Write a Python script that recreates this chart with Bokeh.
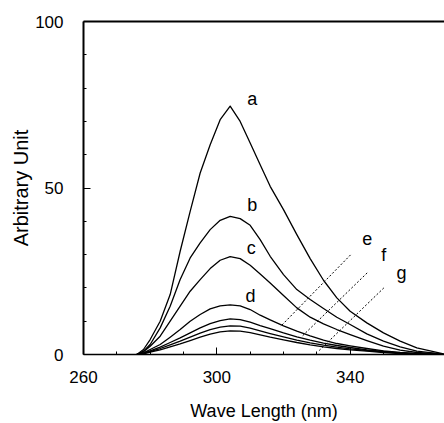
from bokeh.plotting import figure
from bokeh.models import Range1d, FixedTicker, LinearAxis, ColumnDataSource
from bokeh.core.properties import value
from bokeh.embed import file_html
from bokeh.resources import INLINE

# wavelength grid (nm)
wavelength = [276, 278, 280, 283, 286, 289, 292, 295, 298, 301, 304, 307, 310,
              313, 316, 320, 324, 328, 332, 336, 340, 345, 350, 355, 360, 368]

curve_a = [0, 1.5, 4.5, 10, 18, 31, 43, 54.5, 63, 70.5, 74.6, 70, 63.5,
           57, 50.5, 43.5, 36, 28.8, 22.3, 17, 13, 9.5, 6.5, 4, 2, 0.2]
curve_b = [0, 1, 3, 8, 14.5, 22.5, 29, 33.5, 37.5, 40.3, 41.5, 40.8, 38.8,
           34.5, 29.5, 24, 19.5, 16.5, 13.8, 11.2, 9, 6.2, 4, 2.3, 1, 0.1]
curve_c = [0, 0.8, 2.5, 5.5, 10, 14.5, 19, 22.5, 25.8, 28.3, 29.4, 28.8, 26.8,
           24.2, 21.5, 17.7, 14, 11.2, 9.2, 7.5, 6, 4.2, 2.5, 1.3, 0.6, 0.1]
curve_d = [0, 0.5, 1.5, 3, 5.2, 7.5, 10, 12, 13.7, 14.6, 14.9, 14.6, 13.5,
           11.8, 10.4, 8.6, 7, 5.6, 4.3, 3.3, 2.6, 1.8, 1.1, 0.6, 0.3, 0]
curve_e = [0, 0.4, 1.1, 2.2, 3.6, 5, 6.5, 8, 9.3, 10.2, 10.7, 10.5, 9.7,
           8.7, 7.8, 6.5, 5.3, 4.3, 3.4, 2.7, 2.1, 1.4, 0.9, 0.5, 0.2, 0]
curve_f = [0, 0.3, 0.9, 1.8, 2.9, 4, 5.2, 6.4, 7.5, 8.2, 8.6, 8.5, 7.9,
           7.1, 6.3, 5.3, 4.3, 3.5, 2.8, 2.2, 1.7, 1.2, 0.8, 0.4, 0.2, 0]
curve_g = [0, 0.2, 0.7, 1.4, 2.3, 3.2, 4.2, 5.2, 6.1, 6.8, 7.1, 7, 6.6,
           5.9, 5.2, 4.4, 3.6, 2.9, 2.3, 1.8, 1.4, 1, 0.6, 0.3, 0.1, 0]

# curve labels
label_text = ["a", "b", "c", "d", "e", "f", "g"]
label_x = [310.6, 310.6, 310.3, 310.1, 345.1, 350.1, 355.4]
label_y = [76.8, 45.0, 32.0, 17.5, 34.7, 30.0, 24.5]

# dotted leader lines for e, f, g
leader_x = [[340.1, 319.1], [345.1, 325.6], [350.1, 330.5]]
leader_y = [[29.9, 8.4], [24.5, 5.5], [20.0, 1.0]]

x_major = [260, 300, 340]
x_minor = [270, 280, 290, 310, 320, 330, 350, 360]
y_major = [0, 50, 100]
y_minor = [10, 20, 30, 40, 60, 70, 80, 90]

FONT = "Liberation Sans"

p = figure(width=444, height=423, output_backend="svg", toolbar_location=None,
           x_range=Range1d(260, 368.3), y_range=Range1d(0, 100),
           min_border_left=83, min_border_right=0, min_border_top=21,
           min_border_bottom=68)
p.outline_line_color = None
p.xgrid.visible = False
p.ygrid.visible = False
p.background_fill_color = "white"
p.border_fill_color = "white"

for ys in [curve_a, curve_b, curve_c, curve_d, curve_e, curve_f, curve_g]:
    p.line(wavelength, ys, line_color="black", line_width=1.3, line_join="round")

p.multi_line(leader_x, leader_y, line_color="black", line_width=1,
             line_dash="2 2")

src = ColumnDataSource(dict(x=label_x, y=label_y, t=label_text))
p.text(x="x", y="y", text="t", source=src, text_font=value(FONT),
       text_font_size="18px", text_align="center", text_baseline="middle",
       text_color="black")

# axes
xa = p.xaxis[0]
xa.ticker = FixedTicker(ticks=x_major, minor_ticks=x_minor)
ya = p.yaxis[0]
ya.ticker = FixedTicker(ticks=y_major, minor_ticks=y_minor)
for ax in (xa, ya):
    ax.major_tick_in = 7
    ax.major_tick_out = 0
    ax.minor_tick_in = 3
    ax.minor_tick_out = 0
    ax.axis_line_color = "black"
    ax.major_tick_line_color = "black"
    ax.minor_tick_line_color = "black"
    ax.major_label_text_font = FONT
    ax.major_label_text_font_size = "17px"
    ax.major_label_text_color = "black"
    ax.axis_label_text_font = FONT
    ax.axis_label_text_font_style = "normal"
    ax.axis_label_text_color = "black"
xa.axis_line_width = 1.5
ya.axis_line_width = 2
xa.axis_label = "Wave Length (nm)"
xa.axis_label_text_font_size = "18px"
xa.major_label_standoff = 16
xa.axis_label_standoff = 15
ya.axis_label = "Arbitrary Unit"
ya.axis_label_text_font_size = "20px"
ya.major_label_standoff = 20
ya.axis_label_standoff = 0

top = LinearAxis(ticker=FixedTicker(ticks=[]), axis_line_width=2,
                 axis_line_color="black", major_tick_in=0, major_tick_out=0,
                 minor_tick_in=0, minor_tick_out=0, major_label_standoff=0,
                 major_label_text_font_size="0px")
p.add_layout(top, "above")

open("out.html", "w").write(file_html(p, INLINE))
